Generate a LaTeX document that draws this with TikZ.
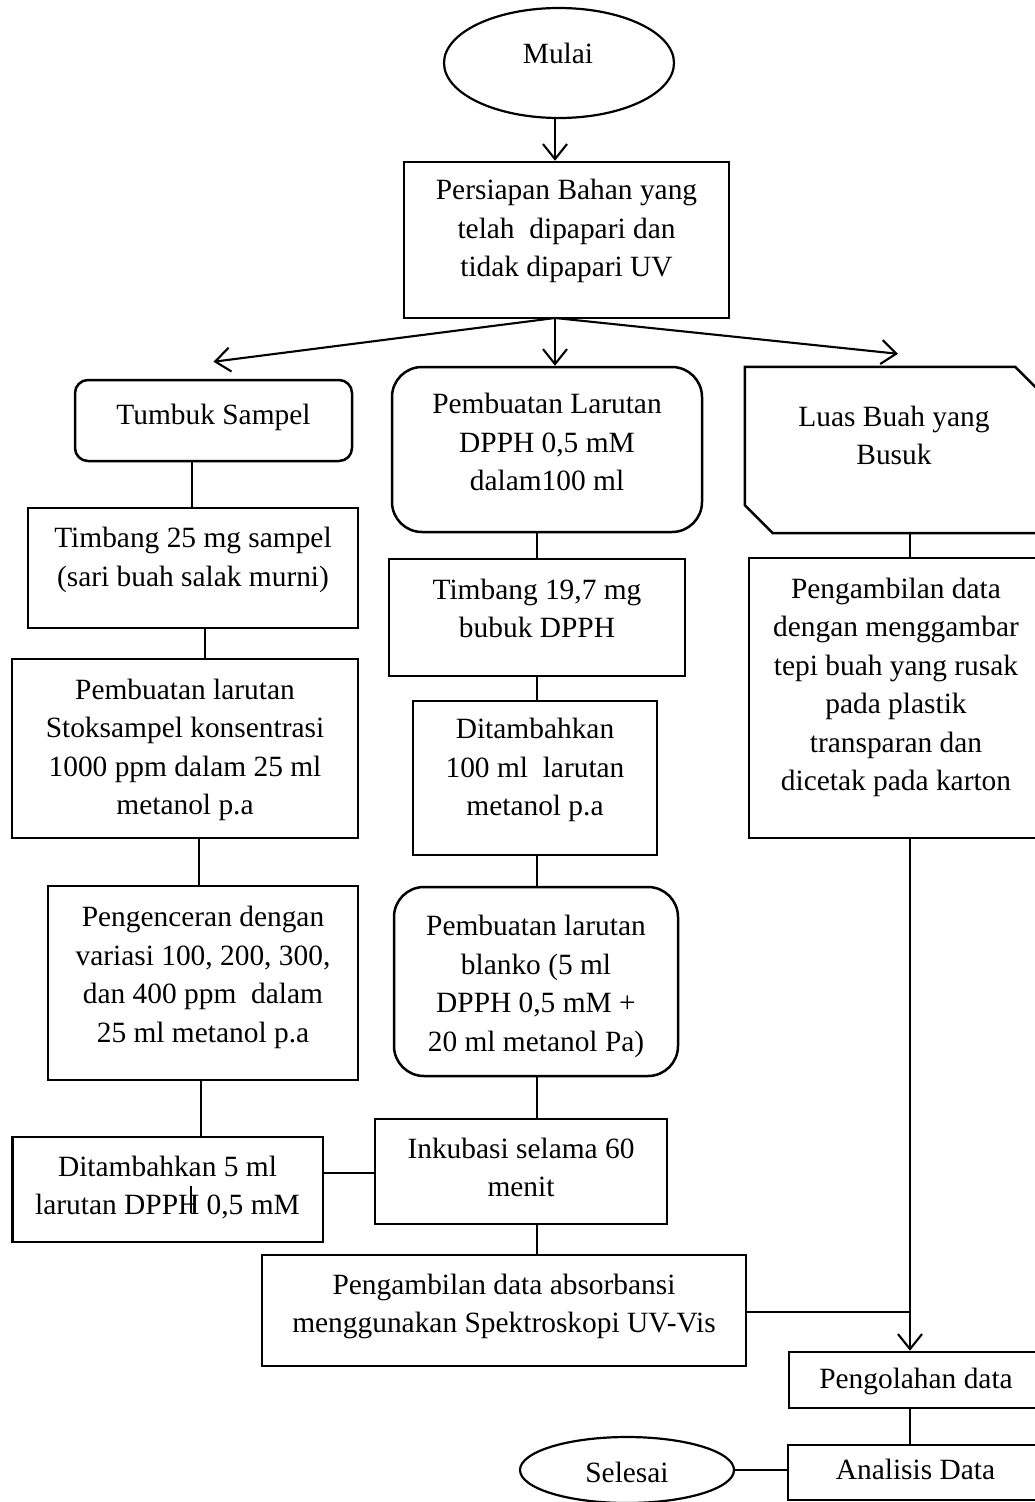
\documentclass[tikz,border=0pt]{standalone}
\usepackage{fontspec}
\setmainfont{Liberation Serif}
\usetikzlibrary{shapes.geometric,arrows.meta}
\newcommand\fsz{\fontsize{29.4}{38.5}\selectfont}
\tikzset{
  box/.style={draw, line width=2.5pt, rectangle, inner sep=0pt},
  rbox/.style={box, rounded corners=13pt},
  rrbox/.style={box, rounded corners=30pt},
  oval/.style={draw, line width=2.2pt, ellipse, inner sep=0pt},
  txt/.style={align=center, inner sep=0pt, font=\fsz, yshift=-5pt,
    execute at begin node=\strut, execute at end node=\strut},
  con/.style={line width=1.5pt},
  arr/.style={line width=2.1pt, -{Straight Barb[length=15pt,width=24pt]}},
}
\begin{document}
\begin{tikzpicture}[x=1pt,y=-1pt]
\useasboundingbox (0,0) rectangle (1035,1502);
\clip (0,0) rectangle (1035,1502);

% start / end
\node[oval, minimum width=230pt, minimum height=110pt] (mulai) at (559,63) {};
\node[txt] (tmulai) at (558,51) {Mulai};
\node[oval, minimum width=214pt, minimum height=66pt] (sel) at (627,1470) {};
\node[txt] (tsel) at (627,1470) {Selesai};

% top box
\node[box, minimum width=325pt, minimum height=156pt] (pers) at (566.5,240) {};
\node[txt] (tpers) at (566.5,229) {Persiapan Bahan yang\\telah\ \ dipapari dan\\tidak dipapari UV};

% left column
\node[rbox, minimum width=277pt, minimum height=81pt] (tumbuk) at (213.5,420.5) {};
\node[txt] (ttumbuk) at (213.5,412) {Tumbuk Sampel};
\node[box, minimum width=330pt, minimum height=120pt] (t25) at (193,568) {};
\node[txt] (tt25) at (193,557.5) {Timbang 25 mg sampel\\(sari buah salak murni)};
\node[box, minimum width=346pt, minimum height=179pt] (stok) at (185,748.5) {};
\node[txt] (tstok) at (185,747.5) {Pembuatan larutan\\Stoksampel konsentrasi\\1000 ppm dalam 25 ml\\metanol p.a};
\node[box, minimum width=310pt, minimum height=194pt] (peng) at (203,983) {};
\node[txt] (tpeng) at (203,975) {Pengenceran dengan\\variasi 100, 200, 300,\\dan 400 ppm\ \ dalam\\25 ml metanol p.a};
\node[box, minimum width=310.5pt, minimum height=105pt] (d5) at (167.75,1189.5) {};
\node[txt] (td5) at (167.5,1186) {Ditambahkan 5 ml\\larutan DPPH 0,5 mM};

% middle column
\node[rrbox, minimum width=310pt, minimum height=165pt] (dpph) at (547,449.5) {};
\node[txt] (tdpph) at (547,443) {Pembuatan Larutan\\DPPH 0,5 mM\\dalam100 ml};
\node[box, minimum width=296pt, minimum height=117pt] (t19) at (537,617.5) {};
\node[txt] (tt19) at (537,609) {Timbang 19,7 mg\\bubuk DPPH};
\node[box, minimum width=244pt, minimum height=154pt] (d100) at (535,778) {};
\node[txt] (td100) at (535,768) {Ditambahkan\\100 ml\ \ larutan\\metanol p.a};
\node[rrbox, minimum width=284pt, minimum height=189pt] (blanko) at (536,981.5) {};
\node[txt] (tblanko) at (536,984) {Pembuatan larutan\\blanko (5 ml\\DPPH 0,5 mM +\\20 ml metanol Pa)};
\node[box, minimum width=292pt, minimum height=105pt] (ink) at (521,1171.5) {};
\node[txt] (tink) at (521,1168) {Inkubasi selama 60\\menit};
\node[box, minimum width=484pt, minimum height=111pt] (uv) at (504,1310.5) {};
\node[txt] (tuv) at (504,1304) {Pengambilan data absorbansi\\menggunakan Spektroskopi UV-Vis};

% right column
\node[minimum width=298pt, minimum height=166pt, inner sep=0pt] (luas) at (894,450) {};
\draw[line width=2.5pt, line join=miter]
  (luas.north west) -- ([xshift=-28pt]luas.north east) -- ([yshift=-28pt]luas.north east)
  -- (luas.south east) -- ([xshift=28pt]luas.south west) -- ([yshift=28pt]luas.south west) -- cycle;
\node[txt] (tluas) at (894,436) {Luas Buah yang\\Busuk};
\node[box, minimum width=294pt, minimum height=280pt] (pgr) at (896,698) {};
\node[txt] (tpgr) at (896,685) {Pengambilan data\\dengan menggambar\\tepi buah yang rusak\\pada plastik\\transparan dan\\dicetak pada karton};
\node[box, minimum width=254pt, minimum height=56pt] (pol) at (916,1380) {};
\node[txt] (tpol) at (916,1376) {Pengolahan data};
\node[box, minimum width=255pt, minimum height=55pt] (ana) at (915.5,1472.5) {};
\node[txt] (tana) at (915.5,1467) {Analisis Data};

% helper coordinates
\coordinate (src) at (555,318);
\coordinate (xa) at (192,0);
\coordinate (xb) at (205,0);
\coordinate (xc) at (199,0);
\coordinate (xd) at (201,0);
\coordinate (xm) at (537,0);
\coordinate (ye) at (0,1173);
\coordinate (join) at (910,1312);
\coordinate (tickA) at (191,1186);
\coordinate (tickB) at (191,1213);

% arrows from top
\draw[arr] (src |- mulai.south) -- (src |- pers.north);
\draw[arr] (src) -- ([yshift=17pt]tumbuk.north);
\draw[arr] (src) -- (src |- dpph.north);
\draw[arr] (src) -- ([xshift=4pt,yshift=13pt]luas.north);

% left column connectors
\draw[con] (tumbuk.south -| xa) -- (t25.north -| xa);
\draw[con] (t25.south -| xb) -- (stok.north -| xb);
\draw[con] (stok.south -| xc) -- (peng.north -| xc);
\draw[con] (peng.south -| xd) -- (d5.north -| xd);
\draw[con] (d5.east |- ye) -- (ink.west |- ye);
\draw[con, line width=1.2pt] (tickA) -- (tickB);

% middle column connectors
\draw[con] (dpph.south -| xm) -- (t19.north -| xm);
\draw[con] (t19.south -| xm) -- (d100.north -| xm);
\draw[con] (d100.south -| xm) -- (blanko.north -| xm);
\draw[con] (blanko.south -| xm) -- (ink.north -| xm);
\draw[con] (ink.south -| xm) -- (uv.north -| xm);

% right column connectors
\draw[con] (luas.south -| join) -- (pgr.north -| join);
\draw[con] (uv.east |- join) -- (join);
\draw[arr] (pgr.south -| join) -- (pol.north -| join);
\draw[con] (pol.south -| join) -- (ana.north -| join);
\draw[con] (sel.east) -- (ana.west |- sel.east);
\end{tikzpicture}
\end{document}
